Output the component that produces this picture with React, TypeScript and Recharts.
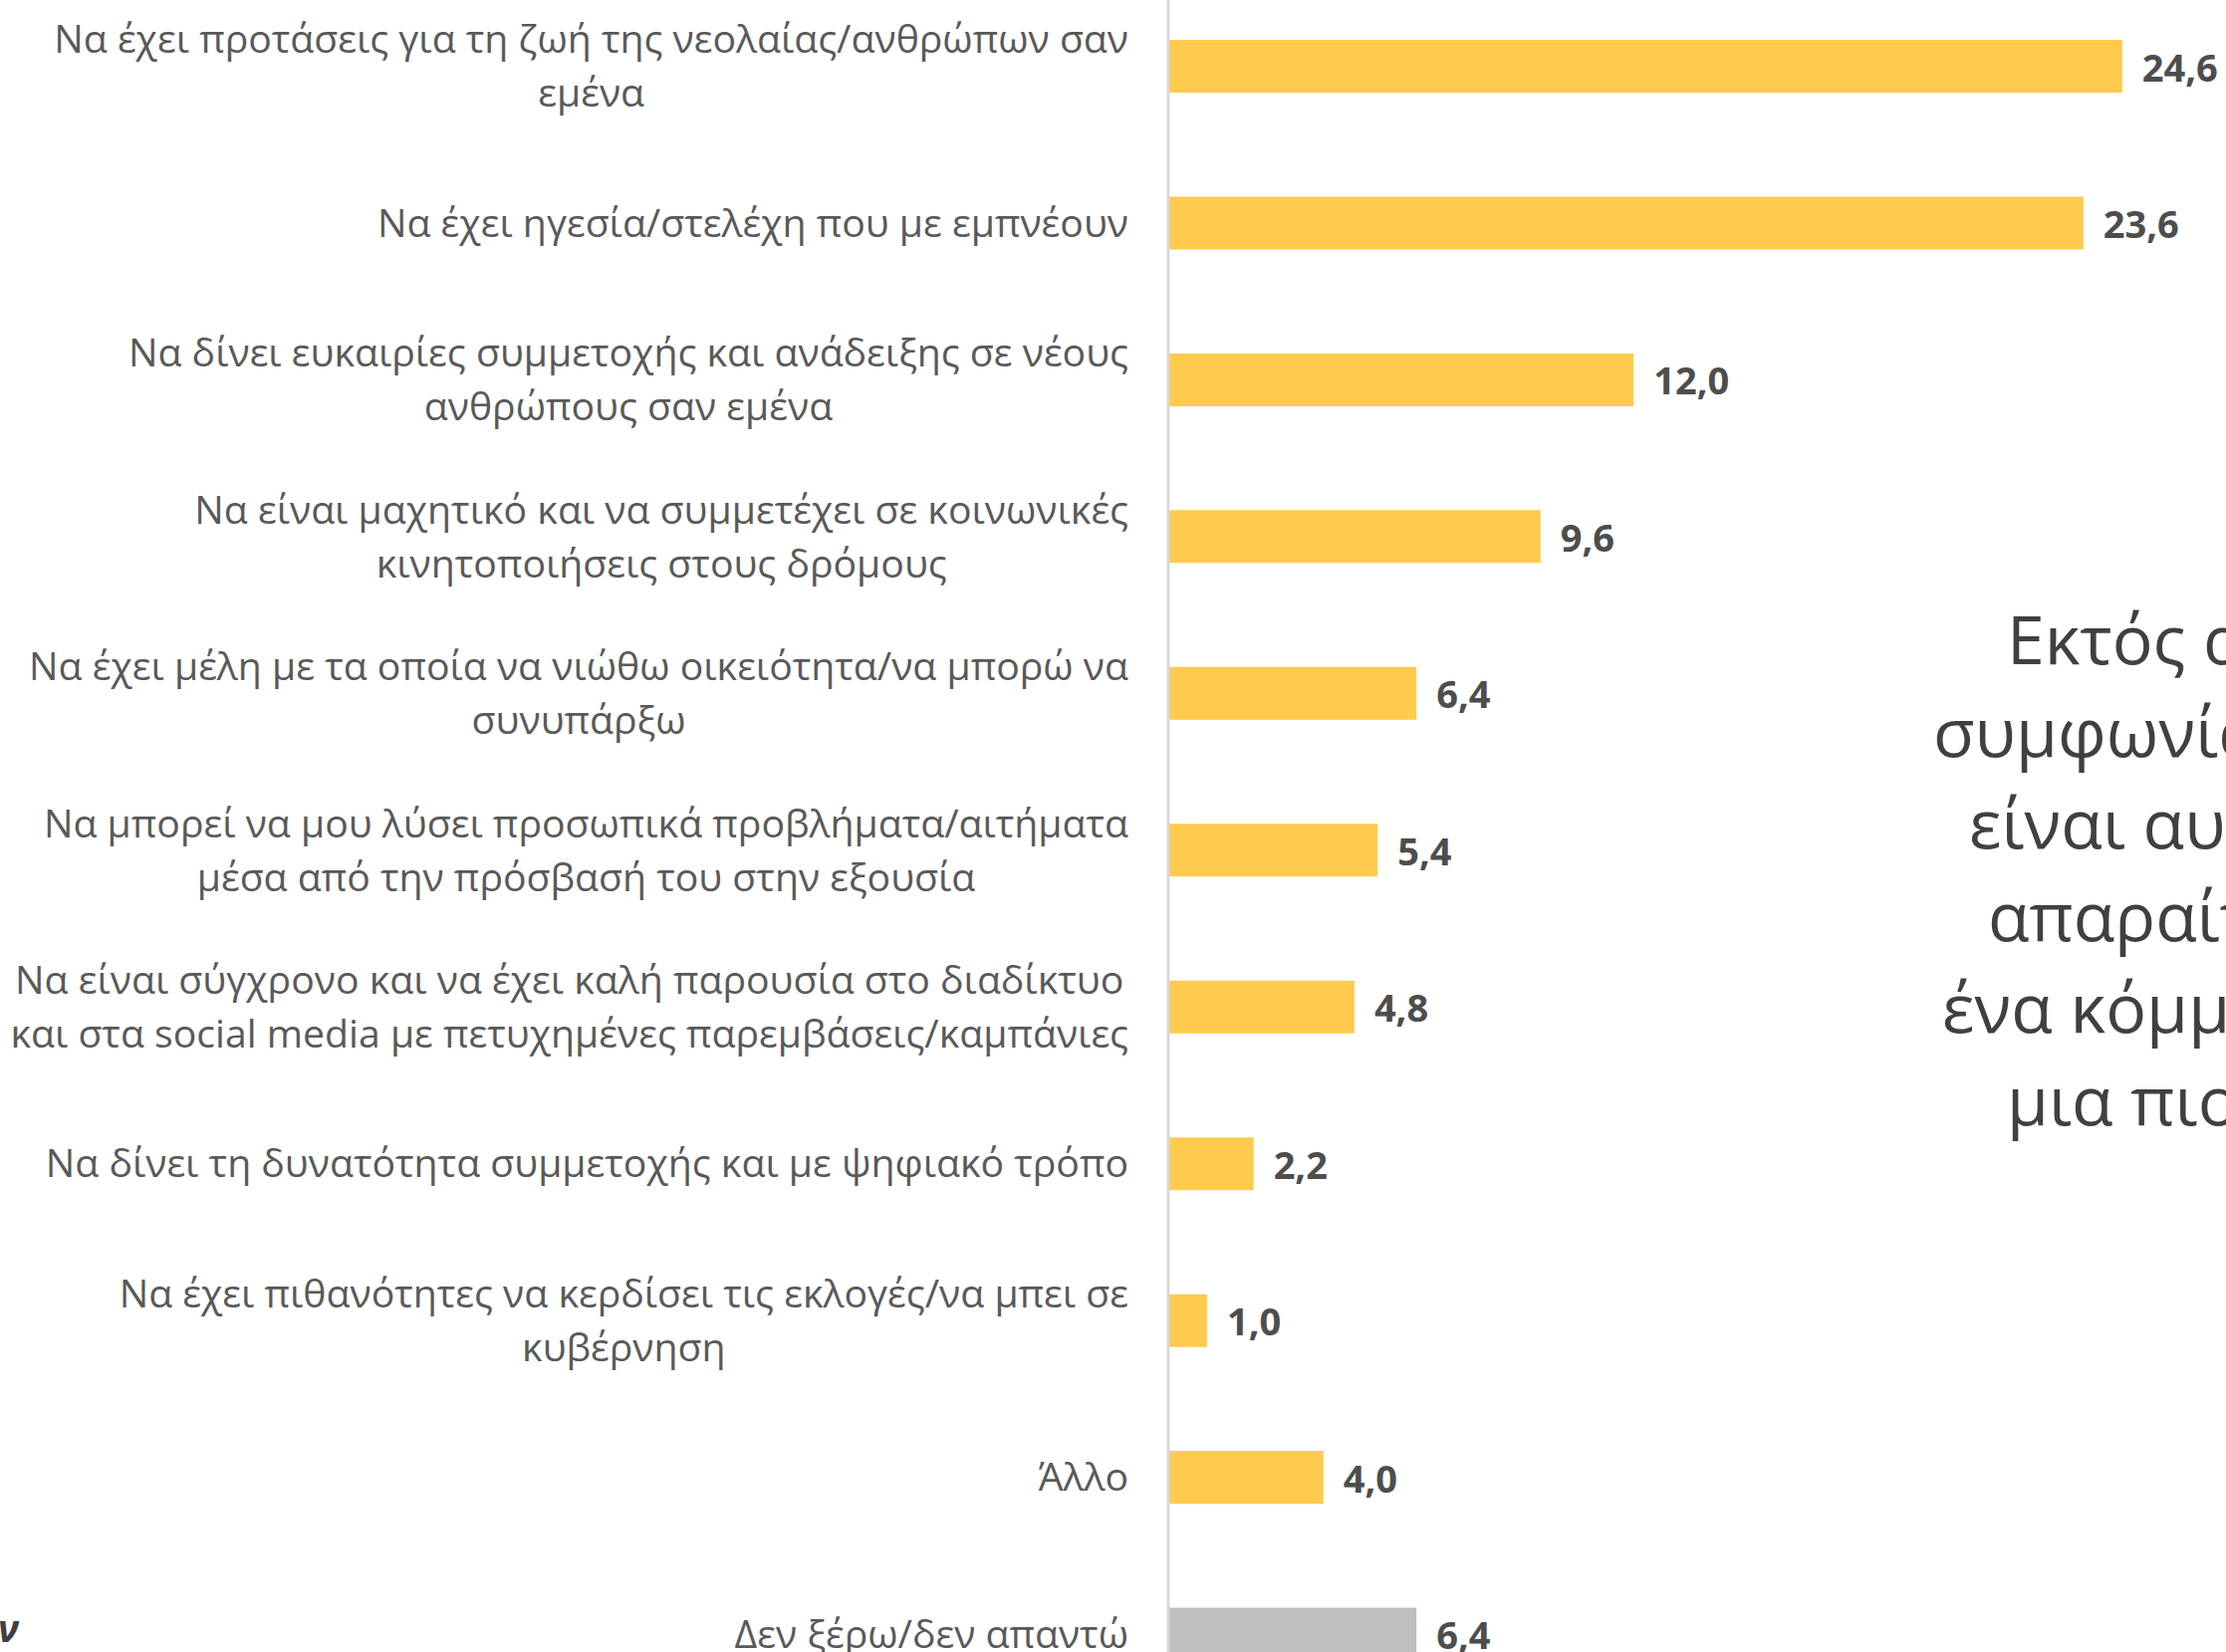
import React from 'react';
import { BarChart, Bar, XAxis, YAxis, Cell, LabelList } from 'recharts';

const categoryLines: string[][] = [
  ['Να έχει προτάσεις για τη ζωή της νεολαίας/ανθρώπων σαν', 'εμένα'],
  ['Να έχει ηγεσία/στελέχη που με εμπνέουν'],
  ['Να δίνει ευκαιρίες συμμετοχής και ανάδειξης σε νέους', 'ανθρώπους σαν εμένα'],
  ['Να είναι μαχητικό και να συμμετέχει σε κοινωνικές', 'κινητοποιήσεις στους δρόμους'],
  ['Να έχει μέλη με τα οποία να νιώθω οικειότητα/να μπορώ να', 'συνυπάρξω'],
  ['Να μπορεί να μου λύσει προσωπικά προβλήματα/αιτήματα', 'μέσα από την πρόσβασή του στην εξουσία'],
  ['Να είναι σύγχρονο και να έχει καλή παρουσία στο διαδίκτυο', 'και στα social media με πετυχημένες παρεμβάσεις/καμπάνιες'],
  ['Να δίνει τη δυνατότητα συμμετοχής και με ψηφιακό τρόπο'],
  ['Να έχει πιθανότητες να κερδίσει τις εκλογές/να μπει σε', 'κυβέρνηση'],
  ['Άλλο'],
  ['Δεν ξέρω/δεν απαντώ'],
];

const values: number[] = [24.6, 23.6, 12.0, 9.6, 6.4, 5.4, 4.8, 2.2, 1.0, 4.0, 6.4];

const barColors: string[] = [
  '#FFCA4D', '#FFCA4D', '#FFCA4D', '#FFCA4D', '#FFCA4D', '#FFCA4D',
  '#FFCA4D', '#FFCA4D', '#FFCA4D', '#FFCA4D', '#BFBFBF',
];

const sideTextLines: string[] = ['Εκτός από', 'συμφωνία', 'είναι αυτό', 'απαραίτητο', 'ένα κόμμα', 'μια πιο'];
const sideTextStarts: number[] = [2015, 1941, 1977, 1996, 1950, 2015];

const data = categoryLines.map((lines, i) => ({ name: lines.join(' '), value: values[i] }));
const linesByName: Record<string, string[]> = {};
categoryLines.forEach((l) => { linesByName[l.join(' ')] = l; });

const LABEL_FONT = 39.2;
const FONT_FAMILY = '"Open Sans", "Noto Sans", sans-serif';

let ctx: CanvasRenderingContext2D | null = null;
function measure(text: string, font: string): number {
  if (!ctx) {
    const c = document.createElement('canvas');
    ctx = c.getContext('2d');
  }
  if (!ctx) return text.length * 20;
  ctx.font = font;
  return ctx.measureText(text).width;
}

const CategoryTick = (props: any) => {
  const { x, y, payload } = props;
  const lines = linesByName[payload.value] || [String(payload.value)];
  const widths = lines.map((l) => measure(l, `${LABEL_FONT}px "Open Sans"`));
  const maxW = Math.max(...widths);
  const cx = x - maxW / 2;
  const lh = 54;
  const startY = y - 2 - ((lines.length - 1) * lh) / 2;
  return (
    <g>
      {lines.map((l, i) => (
        <text
          key={i}
          x={cx}
          y={startY + i * lh}
          textAnchor="middle"
          dominantBaseline="central"
          fontFamily={FONT_FAMILY}
          fontSize={LABEL_FONT}
          fill="#595959"
        >
          {l}
        </text>
      ))}
    </g>
  );
};

const ValueLabel = (props: any) => {
  const { x, y, width, height, value } = props;
  return (
    <text
      x={Number(x) + Number(width) + 20}
      y={Number(y) + Number(height) / 2}
      dominantBaseline="central"
      fontFamily={FONT_FAMILY}
      fontWeight={700}
      fontSize={38}
      fill="#4D4D4D"
    >
      {Number(value).toFixed(1).replace('.', ',')}
    </text>
  );
};

export default function App() {
  return (
    <div
      style={{
        position: 'fixed',
        left: 0,
        top: 0,
        width: 2235,
        height: 1659,
        overflow: 'hidden',
        background: '#FFFFFF',
      }}
    >
      <div style={{ position: 'absolute', left: 0, top: -12 }}>
        <BarChart
          width={2400}
          height={1732}
          data={data}
          layout="vertical"
          margin={{ top: 0, right: 59, bottom: 0, left: 0 }}
        >
          <XAxis type="number" domain={[0, 30]} hide />
          <YAxis
            type="category"
            dataKey="name"
            width={1173}
            interval={0}
            tickLine={false}
            tickSize={0}
            tickMargin={40}
            axisLine={{ stroke: '#D9D9D9', strokeWidth: 3 }}
            tick={<CategoryTick />}
          />
          <Bar dataKey="value" barSize={53} isAnimationActive={false}>
            {data.map((_, i) => (
              <Cell key={i} fill={barColors[i]} />
            ))}
            <LabelList dataKey="value" content={<ValueLabel />} />
          </Bar>
        </BarChart>
      </div>
      <svg
        width={2235}
        height={1659}
        style={{ position: 'absolute', left: 0, top: 0, pointerEvents: 'none' }}
      >
        {sideTextLines.map((t, i) => (
          <text
            key={i}
            x={sideTextStarts[i]}
            y={667 + i * 92.6}
            fontFamily={FONT_FAMILY}
            fontSize={68}
            fill="#404040"
          >
            {t}
          </text>
        ))}
        <text
          x={-2}
          y={1649}
          fontFamily={FONT_FAMILY}
          fontSize={38}
          fontWeight={700}
          fontStyle="italic"
          fill="#404040"
        >
          ν
        </text>
      </svg>
    </div>
  );
}
